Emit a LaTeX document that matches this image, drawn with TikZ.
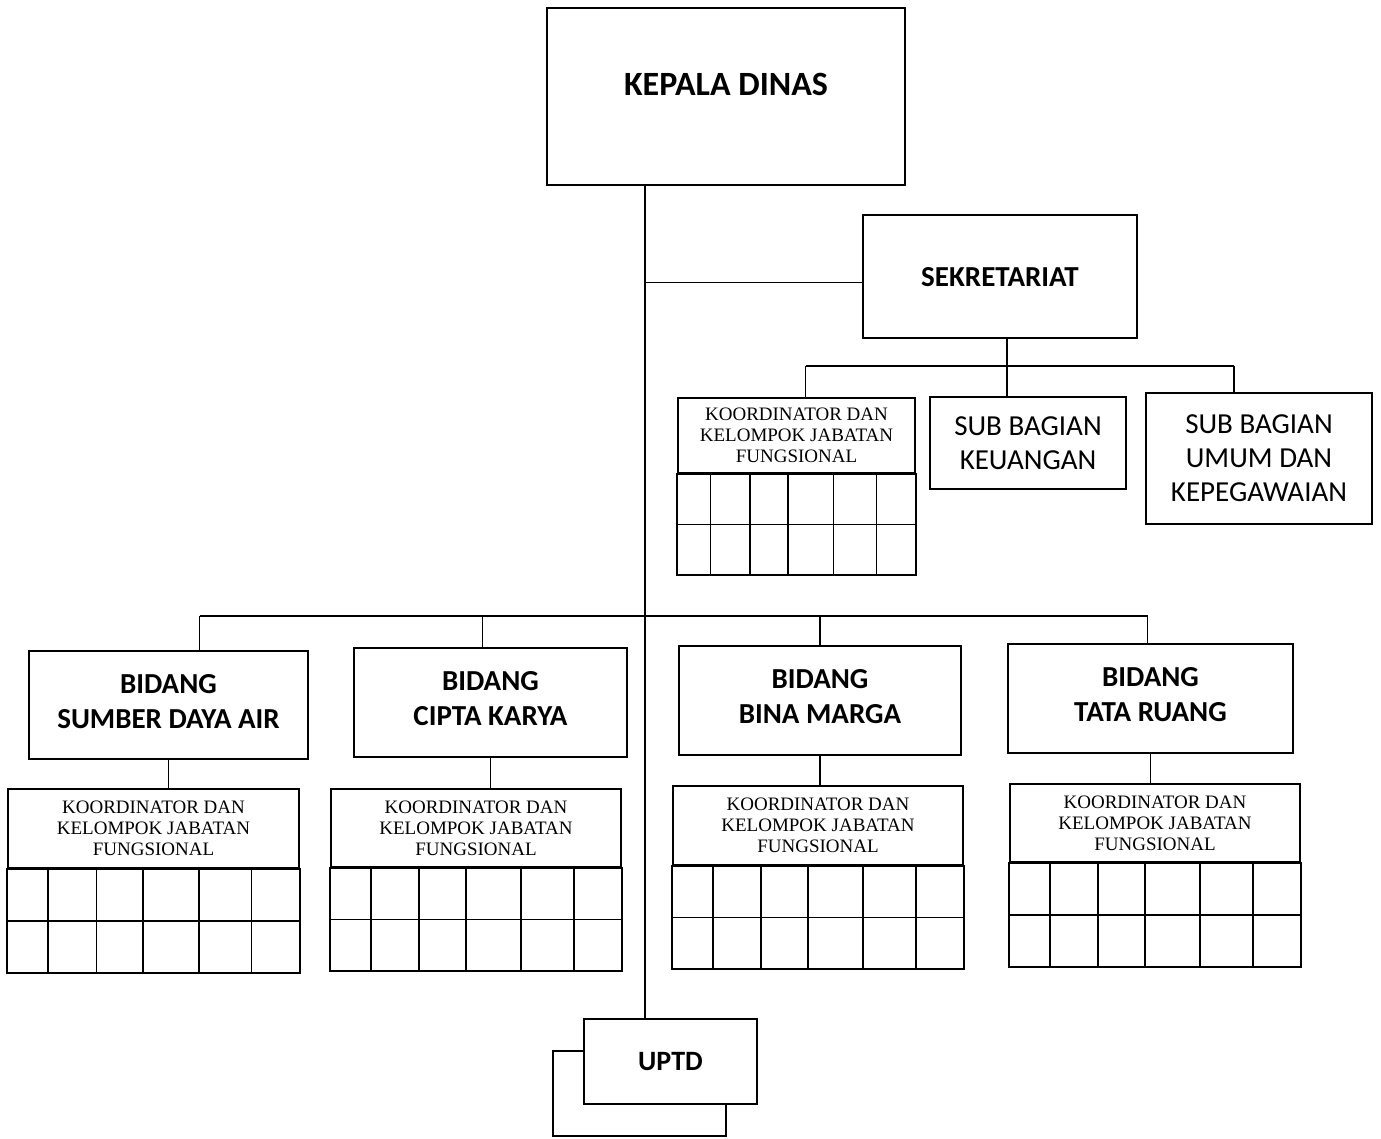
\documentclass[tikz,border=0pt]{standalone}
\usepackage{fontspec}
\setmainfont{Liberation Serif}
\newfontfamily\calfont{Carlito}
\usetikzlibrary{positioning, calc}

\tikzset{
    box/.style = {draw, line width=2.2pt, fill=white, inner sep=0pt, align=center},
    headbox/.style = {box, text depth=8pt, font=\calfont\bfseries\fontsize{29}{35}\selectfont},
    subbox/.style = {box, line width=1.8pt, font=\calfont\fontsize{29}{34}\selectfont},
    kfhead/.style = {draw, line width=1.8pt, inner sep=0pt, align=center, font=\fontsize{19}{21}\selectfont},
    kfline/.style = {line width=1.8pt},
    conn/.style = {line width=1.8pt}
}

% grid of the koordinator box: #1 header node, #2 row height
\newcommand{\kfgrid}[2]{%
    \draw[kfline] (#1.south west) rectangle ($(#1.south east)+(0,2*#2)$);
    \draw[kfline] ($(#1.south west)+(0,#2)$) -- ($(#1.south east)+(0,#2)$);
    \foreach \f in {0.14,0.305,0.465,0.655,0.835}
        \draw[kfline] ($(#1.south west)!\f!(#1.south east)$) -- ++(0,2*#2);
}

\newcommand{\kftext}{KOORDINATOR DAN\\KELOMPOK JABATAN\\FUNGSIONAL}

\begin{document}
\begin{tikzpicture}[x=1pt, y=-1pt]
    \useasboundingbox (0,0) rectangle (1381,1138);

    % top
    \node[box, minimum width=358pt, minimum height=177pt, text depth=24pt, font=\calfont\bfseries\fontsize{34}{40}\selectfont] (kadis) at (726,96.5) {KEPALA DINAS};
    \coordinate (trunk) at (645,0);

    % sekretariat
    \node[headbox, text depth=0pt, minimum width=274pt, minimum height=123pt] (sek) at (1000,276.5) {SEKRETARIAT};
    \node[kfhead, minimum width=237pt, minimum height=75pt] (kfsek) at (796.5,435.5) {\kftext};
    \kfgrid{kfsek}{50.5}
    \node[subbox, minimum width=196pt, minimum height=92pt] (keu) at (1028,443) {SUB BAGIAN\\KEUANGAN};
    \node[subbox, minimum width=226pt, minimum height=131pt] (umum) at (1259,458.5) {SUB BAGIAN\\UMUM DAN\\KEPEGAWAIAN};

    % bidang
    \node[headbox, minimum width=279pt, minimum height=108pt] (sda) at (168.5,705) {BIDANG\\SUMBER DAYA AIR};
    \node[headbox, minimum width=273pt, minimum height=109pt] (ck) at (490.5,702.5) {BIDANG\\CIPTA KARYA};
    \node[headbox, minimum width=282pt, minimum height=109pt] (bm) at (820,700.5) {BIDANG\\BINA MARGA};
    \node[headbox, minimum width=285pt, minimum height=109pt] (tr) at (1150.5,698.5) {BIDANG\\TATA RUANG};

    \node[kfhead, minimum width=291pt, minimum height=79pt] (kfsda) at (153.5,828.5) {\kftext};
    \node[kfhead, minimum width=290pt, minimum height=78pt] (kfck) at (476,828) {\kftext};
    \node[kfhead, minimum width=290pt, minimum height=79pt] (kfbm) at (818,825.5) {\kftext};
    \node[kfhead, minimum width=290pt, minimum height=78pt] (kftr) at (1155,823) {\kftext};
    \kfgrid{kfsda}{52}
    \kfgrid{kfck}{51.5}
    \kfgrid{kfbm}{51.5}
    \kfgrid{kftr}{52}

    % uptd
    \node[box, minimum width=173pt, minimum height=85pt, font=\calfont\bfseries\fontsize{28}{34}\selectfont] (uptd) at (670.5,1061.5) {UPTD};
    \draw[line width=2.2pt] ($(uptd.north west)+(0,33)$) -- ++(-30,0) -- ++(0,85) -- ++(173,0) -- ++(0,-33);

    % connectors
    \draw[conn] (kadis.south -| trunk) -- (uptd.north -| trunk);
    \coordinate (sekin) at ($(sek.west)+(0,6)$);
    \draw[conn] (sekin) -- (sekin -| trunk);

    \coordinate (sekbus) at ($(sek.south)+(7,27)$);
    \draw[conn] (sekbus |- sek.south) -- (sekbus);
    \draw[conn] ([xshift=9pt]kfsek.north |- sekbus) -- ([xshift=-25pt]umum.north |- sekbus);
    \draw[conn] ([xshift=9pt]kfsek.north |- sekbus) -- ([xshift=9pt]kfsek.north);
    \draw[conn] ([xshift=-21pt]keu.north |- sekbus) -- ([xshift=-21pt]keu.north);
    \draw[conn] ([xshift=-25pt]umum.north |- sekbus) -- ([xshift=-25pt]umum.north);

    \coordinate (bidbus) at (0,616);
    \draw[conn] ([xshift=31pt]sda.north |- bidbus) -- ([xshift=-3pt]tr.north |- bidbus);
    \draw[conn] ([xshift=31pt]sda.north |- bidbus) -- ([xshift=31pt]sda.north);
    \draw[conn] ([xshift=-8pt]ck.north |- bidbus) -- ([xshift=-8pt]ck.north);
    \draw[conn] (bm.north |- bidbus) -- (bm.north);
    \draw[conn] ([xshift=-3pt]tr.north |- bidbus) -- ([xshift=-3pt]tr.north);

    \draw[conn] (sda.south) -- (sda.south |- kfsda.north);
    \draw[conn] (ck.south) -- (ck.south |- kfck.north);
    \draw[conn] (bm.south) -- (bm.south |- kfbm.north);
    \draw[conn] (tr.south) -- (tr.south |- kftr.north);

\end{tikzpicture}
\end{document}
